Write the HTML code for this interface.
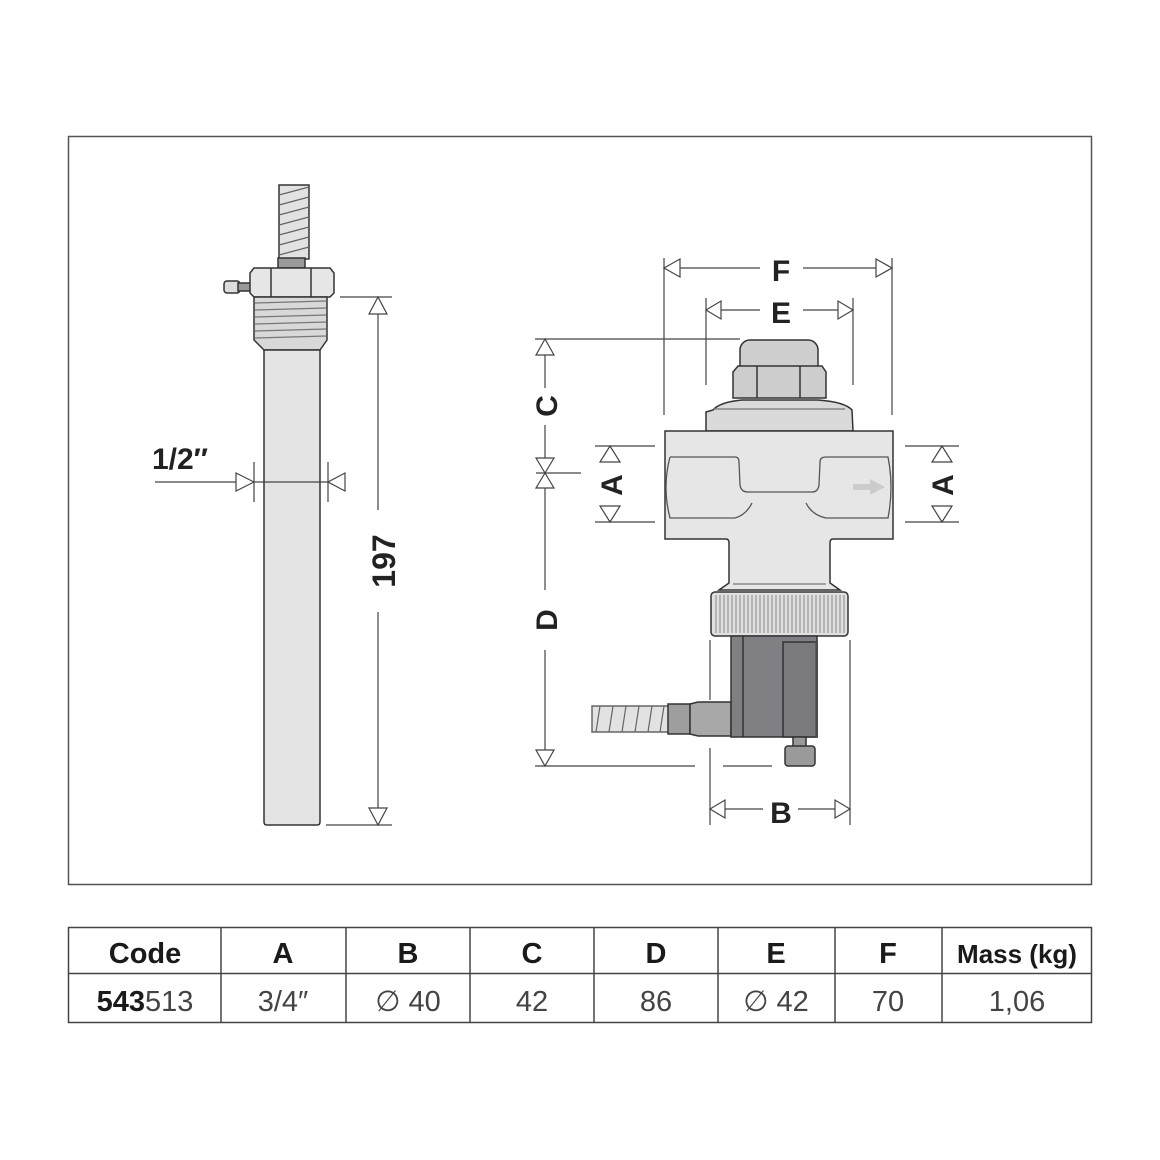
<!DOCTYPE html>
<html><head><meta charset="utf-8"><style>html,body{margin:0;padding:0;background:#fff}svg{display:block}</style></head>
<body>
<svg width="1160" height="1160" viewBox="0 0 1160 1160" xmlns="http://www.w3.org/2000/svg" font-family="Liberation Sans, sans-serif">
<rect x="0" y="0" width="1160" height="1160" fill="#fff"/>
<rect x="68.5" y="136.5" width="1023" height="748" fill="none" stroke="#555" stroke-width="1.5"/>

<!-- LEFT PROBE -->
<g stroke="#333" stroke-width="1.5">
  <!-- cable -->
  <rect x="279" y="185" width="30" height="74" fill="#e2e2e2"/>
  <g stroke="#666" stroke-width="1.2" fill="none">
    <path d="M279 195 L309 187 M279 205 L309 197 M279 215 L309 207 M279 225 L309 217 M279 235 L309 227 M279 245 L309 237 M279 255 L309 247"/>
  </g>
  <rect x="278" y="258" width="27" height="10" fill="#9a9a9a"/>
  <!-- screw -->
  <rect x="224" y="281" width="16" height="12" rx="3" fill="#ddd"/>
  <rect x="238" y="283" width="13" height="8" fill="#999"/>
  <!-- hex nut -->
  <path d="M254 268 L330 268 L334 273 L334 293 L330 297 L254 297 L250 293 L250 273 Z" fill="#e6e6e6"/>
  <line x1="271" y1="268" x2="271" y2="297"/><line x1="311" y1="268" x2="311" y2="297"/>
  <!-- thread -->
  <path d="M254 297 L327 297 L327 340 L320 350 L264 350 L254 340 Z" fill="#d8d8d8"/>
  <g stroke="#777" stroke-width="1.2"><line x1="255" y1="303" x2="326" y2="301"/><line x1="255" y1="310" x2="326" y2="308"/><line x1="255" y1="317" x2="326" y2="315"/><line x1="255" y1="324" x2="326" y2="322"/><line x1="255" y1="331" x2="326" y2="329"/><line x1="255" y1="338" x2="326" y2="336"/></g>
  <!-- tube -->
  <path d="M264 350 L320 350 L320 822 Q320 825 317 825 L267 825 Q264 825 264 822 Z" fill="#e4e4e4"/>
</g>
<!-- 1/2 dim -->
<g stroke="#444" stroke-width="1.2" fill="#fff">
  <line x1="254" y1="462" x2="254" y2="502"/><line x1="328" y1="462" x2="328" y2="502"/>
  <line x1="155" y1="482" x2="344" y2="482"/>
  <path d="M236 473 L254 482 L236 491 Z"/><path d="M345 473 L328 482 L345 491 Z"/>
</g>
<text x="180" y="469" font-size="30" font-weight="bold" fill="#222" text-anchor="middle">1/2″</text>
<!-- 197 -->
<g stroke="#444" stroke-width="1.2" fill="#fff">
  <line x1="340" y1="297" x2="392" y2="297"/><line x1="326" y1="825" x2="392" y2="825"/>
  <line x1="378" y1="297" x2="378" y2="510"/><line x1="378" y1="612" x2="378" y2="825"/>
  <path d="M378 297 L369 314 L387 314 Z"/><path d="M378 825 L369 808 L387 808 Z"/>
</g>
<text transform="translate(395,561) rotate(-90)" font-size="32" font-weight="bold" fill="#222" text-anchor="middle">197</text>

<!-- RIGHT VALVE -->
<g stroke="#333" stroke-width="1.5">
  <rect x="740" y="340" width="78" height="35" rx="10" fill="#cfcfcf"/>
  <path d="M738 366 L822 366 L826 372 L826 398 L733 398 L733 372 Z" fill="#cdcdcd"/>
  <line x1="757" y1="366" x2="757" y2="398"/><line x1="800" y1="366" x2="800" y2="398"/>
  <path d="M713 410 Q720 402 742 400 L818 400 Q845 402 852 410 L853 431 L706 431 L706 412 Z" fill="#dadada"/>
  <line x1="714" y1="409" x2="845" y2="409" stroke="#777" stroke-width="1.2"/>
  <!-- body -->
  <path d="M665 431 L893 431 L893 539 L833 539 Q830 539 830 543 L830 583 L840 590 L719 590 L729 583 L729 543 Q729 539 726 539 L665 539 Z" fill="#e6e6e6"/>
  <path d="M670 457 L735 457 Q739 457 739 462 L740 485 Q741 492 748 492 L812 492 Q818 492 819 485 L820 462 Q820 457 826 457 L888 457 Q894 487 888 518 L826 518 Q812 515 806 503 M752 503 Q746 515 735 518 L670 518 Q662 487 670 457" fill="none" stroke="#555" stroke-width="1.3"/>
  <path d="M853 484 L870 484 L870 479 L885 487 L870 495 L870 490 L853 490 Z" fill="#ccc" stroke="none"/>
  <line x1="733" y1="584" x2="826" y2="584" stroke="#777" stroke-width="1.2"/>
  <!-- ring -->
  <rect x="711" y="592" width="137" height="44" rx="4" fill="#e0e0e0"/>
</g>
<g stroke="#888" stroke-width="1">
  <path d="M716 595V633M720 595V633M724 595V633M728 595V633M732 595V633M736 595V633M740 595V633M744 595V633M748 595V633M752 595V633M756 595V633M760 595V633M764 595V633M768 595V633M772 595V633M776 595V633M780 595V633M784 595V633M788 595V633M792 595V633M796 595V633M800 595V633M804 595V633M808 595V633M812 595V633M816 595V633M820 595V633M824 595V633M828 595V633M832 595V633M836 595V633M840 595V633M844 595V633"/>
</g>
<g stroke="#333" stroke-width="1.5">
  <!-- connector & cable -->
  <rect x="592" y="706" width="78" height="26" fill="#e2e2e2" stroke="#666"/>
  <g stroke="#666" stroke-width="1.2"><path d="M600 706 L596 732 M613 706 L609 732 M626 706 L622 732 M639 706 L635 732 M652 706 L648 732 M664 706 L660 732"/></g>
  <rect x="668" y="704" width="22" height="30" fill="#9e9e9e"/>
  <path d="M690 704 L698 702 L731 702 L731 736 L698 736 L690 734 Z" fill="#a8a8a8"/>
  <!-- dark box -->
  <rect x="731" y="636" width="86" height="101" fill="#808084"/>
  <line x1="743" y1="636" x2="743" y2="737"/>
  <rect x="783" y="642" width="34" height="95" fill="#7a7a7e"/>
  <line x1="816" y1="642" x2="816" y2="737" stroke="#555"/>
  <!-- button -->
  <rect x="793" y="737" width="13" height="10" fill="#999"/>
  <rect x="785" y="746" width="30" height="20" rx="3" fill="#9a9a9a"/>
</g>

<!-- right dims -->
<g stroke="#444" stroke-width="1.2" fill="#fff">
  <!-- F -->
  <line x1="664" y1="258" x2="664" y2="415"/><line x1="892" y1="258" x2="892" y2="415"/>
  <line x1="664" y1="268" x2="760" y2="268"/><line x1="803" y1="268" x2="892" y2="268"/>
  <path d="M664 268 L680 259 L680 277 Z"/><path d="M892 268 L876 259 L876 277 Z"/>
  <!-- E -->
  <line x1="706" y1="298" x2="706" y2="385"/><line x1="853" y1="298" x2="853" y2="385"/>
  <line x1="706" y1="310" x2="760" y2="310"/><line x1="803" y1="310" x2="853" y2="310"/>
  <path d="M706 310 L721 301 L721 319 Z"/><path d="M853 310 L838 301 L838 319 Z"/>
  <!-- C / D -->
  <line x1="535" y1="339" x2="740" y2="339"/>
  <line x1="545" y1="339" x2="545" y2="388"/><line x1="545" y1="425" x2="545" y2="590"/><line x1="545" y1="650" x2="545" y2="766"/>
  <line x1="536" y1="473" x2="581" y2="473"/>
  <path d="M545 339 L536 355 L554 355 Z"/>
  <path d="M545 473 L536 458 L554 458 Z"/><path d="M545 473 L536 488 L554 488 Z"/>
  <path d="M545 766 L536 750 L554 750 Z"/>
  <line x1="535" y1="766" x2="695" y2="766"/><line x1="723" y1="766" x2="772" y2="766"/>
  <!-- A left -->
  <line x1="595" y1="446" x2="655" y2="446"/><line x1="595" y1="522" x2="655" y2="522"/>
  <path d="M610 446 L600 462 L620 462 Z"/><path d="M610 522 L600 506 L620 506 Z"/>
  <!-- A right -->
  <line x1="905" y1="446" x2="959" y2="446"/><line x1="905" y1="522" x2="959" y2="522"/>
  <path d="M942 446 L932 462 L952 462 Z"/><path d="M942 522 L932 506 L952 506 Z"/>
  <!-- B -->
  <line x1="710" y1="640" x2="710" y2="700"/><line x1="710" y1="748" x2="710" y2="825"/>
  <line x1="850" y1="640" x2="850" y2="825"/>
  <line x1="710" y1="809" x2="763" y2="809"/><line x1="798" y1="809" x2="850" y2="809"/>
  <path d="M710 809 L725 800 L725 818 Z"/><path d="M850 809 L835 800 L835 818 Z"/>
</g>
<g font-size="30" font-weight="bold" fill="#222" text-anchor="middle">
  <text x="781" y="281">F</text>
  <text x="781" y="323">E</text>
  <text x="781" y="823">B</text>
  <text transform="translate(557,406) rotate(-90)">C</text>
  <text transform="translate(557,620) rotate(-90)">D</text>
  <text transform="translate(622,485) rotate(-90)">A</text>
  <text transform="translate(953,485) rotate(-90)">A</text>
</g>

<!-- TABLE -->
<g stroke="#444" stroke-width="1.5" fill="none">
  <rect x="68.5" y="927.5" width="1023" height="95"/>
  <line x1="68" y1="973.5" x2="1091" y2="973.5"/>
  <line x1="221" y1="927" x2="221" y2="1022"/><line x1="346" y1="927" x2="346" y2="1022"/>
  <line x1="470" y1="927" x2="470" y2="1022"/><line x1="594" y1="927" x2="594" y2="1022"/>
  <line x1="718" y1="927" x2="718" y2="1022"/><line x1="835" y1="927" x2="835" y2="1022"/>
  <line x1="942" y1="927" x2="942" y2="1022"/>
</g>
<g font-size="29" font-weight="bold" fill="#1a1a1a" text-anchor="middle">
  <text x="145" y="963">Code</text><text x="283" y="963">A</text><text x="408" y="963">B</text>
  <text x="532" y="963">C</text><text x="656" y="963">D</text><text x="776" y="963">E</text>
  <text x="888" y="963">F</text><text x="1017" y="963" font-size="26">Mass (kg)</text>
</g>
<g font-size="29" fill="#444" text-anchor="middle">
  <text x="145" y="1011"><tspan font-weight="bold" fill="#1a1a1a">543</tspan>513</text>
  <text x="283" y="1011">3/4″</text><text x="408" y="1011">∅ 40</text>
  <text x="532" y="1011">42</text><text x="656" y="1011">86</text><text x="776" y="1011">∅ 42</text>
  <text x="888" y="1011">70</text><text x="1017" y="1011">1,06</text>
</g>
</svg>
</body></html>
